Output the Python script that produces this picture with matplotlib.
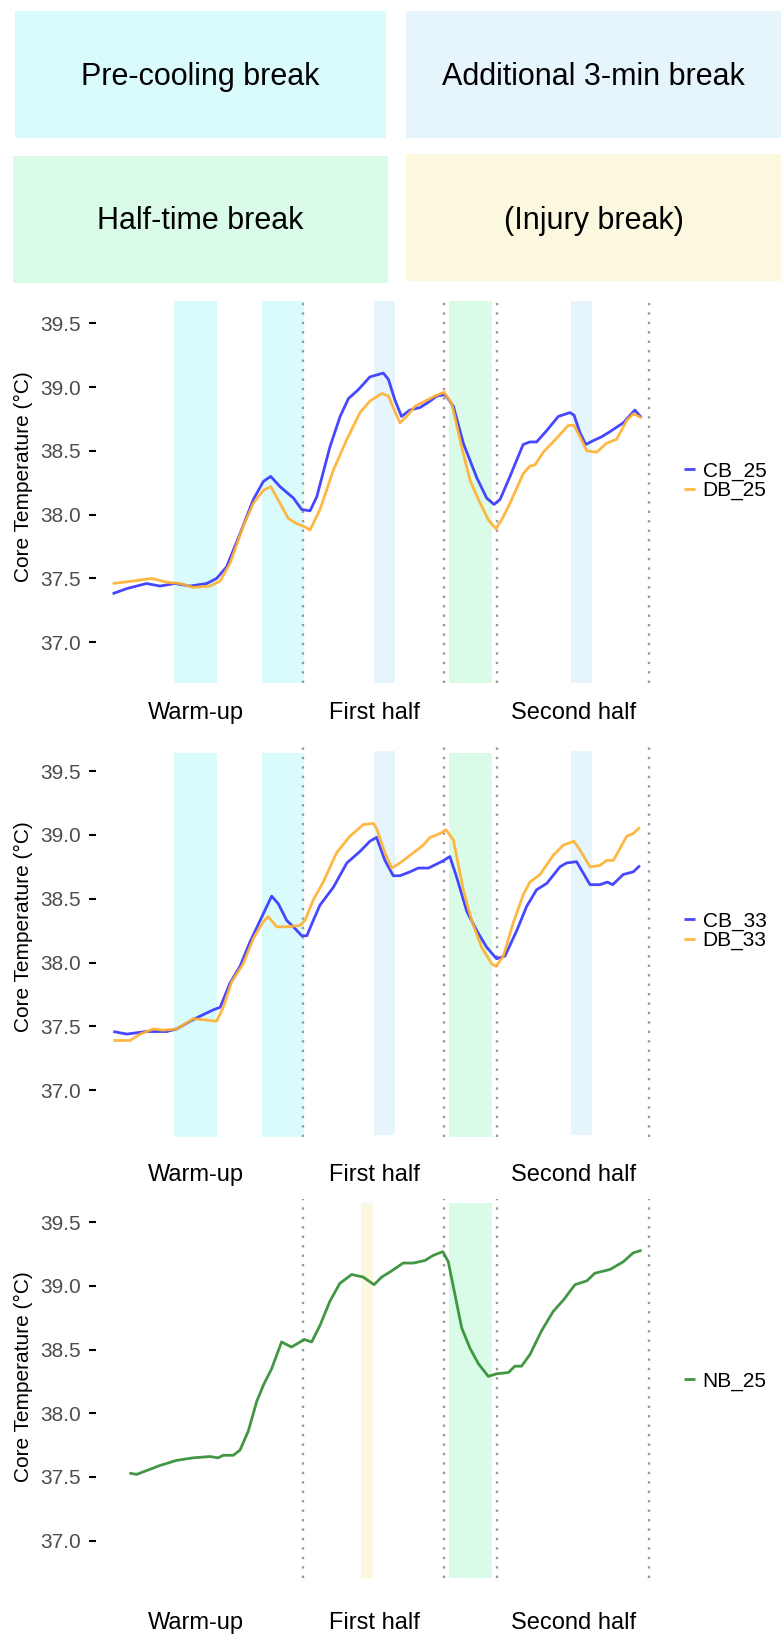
import matplotlib.pyplot as plt
from matplotlib.patches import Rectangle

plt.rcParams["font.family"] = ["Liberation Sans", "DejaVu Sans"]

W, H, DPI = 781, 1635, 100

# ── data: minutes relative to kick-off, core temperature (°C) ────────────────
cb25_t = [-59.4, -55, -48.8, -44.6, -39.9, -35.2, -30, -26.9, -23.8, -19.6, -15.4, -12.3, -10,
          -7.1, -2.9, -0.3, 2.3, 4.4, 8.5, 11.7, 14.3, 17.4, 21, 25.2, 26.8, 28.8, 30.9, 33.5,
          36.7, 39.8, 41.9, 44.5, 47.1, 50.2, 54.4, 57.5, 59.8, 61.7, 64.8, 68.9, 71, 73.1,
          76.3, 79.9, 83.5, 84.8, 86.7, 88.5, 90.8, 93.4, 96, 100.2, 103.8, 105.9]
cb25 = [37.38, 37.42, 37.46, 37.44, 37.46, 37.44, 37.46, 37.50, 37.59, 37.85, 38.12, 38.26, 38.30,
        38.22, 38.13, 38.04, 38.03, 38.14, 38.53, 38.77, 38.91, 38.98, 39.08, 39.11, 39.06, 38.90,
        38.77, 38.82, 38.84, 38.89, 38.93, 38.94, 38.85, 38.56, 38.29, 38.13, 38.08, 38.12, 38.30,
        38.55, 38.57, 38.57, 38.66, 38.77, 38.80, 38.78, 38.64, 38.55, 38.58, 38.61, 38.65, 38.72,
        38.82, 38.76]

db25_t = [-59.4, -52.9, -47.2, -42.5, -38.3, -34.2, -29, -25.8, -22.7, -18.6, -15.4, -12.3, -10,
          -7.1, -4.5, -1.9, 0.2, 2.3, 5.4, 9.6, 13.8, 17.9, 21, 24.7, 26.8, 28.8, 30.4, 32.5,
          35.1, 38.2, 41.3, 44.2, 46.6, 49.7, 52.3, 54.9, 58, 60.4, 62.2, 64.8, 68.9, 71, 72.6,
          75.2, 79.4, 83, 84.8, 86.7, 88.8, 91.9, 95, 98.1, 101.3, 103.3, 105.9]
db25 = [37.46, 37.48, 37.50, 37.47, 37.46, 37.43, 37.44, 37.48, 37.62, 37.91, 38.09, 38.19, 38.22,
        38.09, 37.97, 37.93, 37.91, 37.88, 38.04, 38.35, 38.59, 38.80, 38.89, 38.95, 38.93, 38.81,
        38.72, 38.77, 38.85, 38.89, 38.93, 38.96, 38.87, 38.53, 38.27, 38.12, 37.96, 37.89, 37.96,
        38.09, 38.32, 38.38, 38.39, 38.49, 38.60, 38.70, 38.70, 38.61, 38.50, 38.49, 38.56, 38.59,
        38.74, 38.79, 38.76]

cb33_t = [-59.2, -55, -48.8, -42.5, -39.4, -35.2, -32.1, -27.9, -25.8, -22.7, -19.6, -16.5, -13.3,
          -9.7, -7.6, -5, -2.9, -0.3, 1.3, 3.3, 5.4, 9.6, 13.8, 17.9, 21, 23.1, 25.7, 28.3, 30.4,
          33.5, 36.1, 39.3, 43.4, 46, 48.1, 51.3, 54.4, 57.5, 60.6, 63.2, 66.9, 70, 73.1, 76.3,
          80.4, 82.5, 85.6, 87.7, 89.8, 92.9, 95.2, 96.9, 100.2, 103.3, 105.4]
cb33 = [37.46, 37.44, 37.46, 37.46, 37.48, 37.54, 37.58, 37.63, 37.65, 37.84, 37.97, 38.16, 38.33,
        38.52, 38.46, 38.33, 38.28, 38.21, 38.21, 38.33, 38.45, 38.59, 38.78, 38.87, 38.95, 38.98,
        38.80, 38.68, 38.68, 38.71, 38.74, 38.74, 38.79, 38.83, 38.67, 38.40, 38.25, 38.12, 38.03,
        38.05, 38.25, 38.44, 38.57, 38.62, 38.75, 38.78, 38.79, 38.70, 38.61, 38.61, 38.63, 38.61,
        38.69, 38.71, 38.76]

db33_t = [-59.2, -54, -50.8, -46.7, -43.6, -39.4, -34.2, -30, -26.9, -24.8, -22.2, -18.6, -15.4,
          -12.3, -10.8, -8.1, -5, -0.8, 0.7, 3.3, 6.4, 10.6, 14.8, 18.9, 22.1, 23.1, 25.7, 27.8,
          30.4, 34.6, 37.7, 39.8, 42.9, 44.8, 47.1, 50.2, 52.8, 55.9, 59.1, 60.4, 62.7, 65.8, 68.9,
          71, 74.2, 78.3, 81.5, 84.8, 86.7, 89.8, 92.9, 95, 97.1, 101.3, 103.3, 105.4]
db33 = [37.39, 37.39, 37.44, 37.48, 37.47, 37.48, 37.56, 37.55, 37.54, 37.65, 37.85, 37.99, 38.19,
        38.32, 38.36, 38.28, 38.28, 38.29, 38.33, 38.49, 38.63, 38.86, 38.99, 39.08, 39.09, 39.05,
        38.86, 38.74, 38.78, 38.86, 38.92, 38.98, 39.01, 39.04, 38.96, 38.57, 38.33, 38.12, 37.99,
        37.97, 38.05, 38.31, 38.53, 38.63, 38.69, 38.84, 38.92, 38.95, 38.88, 38.75, 38.76, 38.80,
        38.80, 38.99, 39.01, 39.06]

nb25_t = [-54.2, -51.9, -47.7, -44.6, -39.4, -34.2, -29, -26.4, -24.8, -21.7, -19.6, -17, -14.4,
          -12.3, -9.7, -6.6, -3.5, -0.8, 0.4, 2.8, 5.4, 8.5, 11.6, 15.3, 18.9, 22.3, 24.7, 27.3,
          31.4, 34.6, 38.2, 40.8, 43.8, 45.5, 47.6, 49.7, 52.3, 54.9, 58, 60.6, 64.3, 66.3, 68.4,
          71, 74.7, 78.3, 81.5, 85.1, 88.8, 91.3, 96.1, 100.2, 103.3, 105.9]
nb25 = [37.53, 37.52, 37.56, 37.59, 37.63, 37.65, 37.66, 37.65, 37.67, 37.67, 37.71, 37.86, 38.09,
        38.22, 38.35, 38.56, 38.52, 38.56, 38.58, 38.56, 38.69, 38.88, 39.02, 39.09, 39.07, 39.01,
        39.07, 39.11, 39.18, 39.18, 39.20, 39.24, 39.27, 39.19, 38.93, 38.67, 38.51, 38.39, 38.29,
        38.31, 38.32, 38.37, 38.37, 38.46, 38.65, 38.80, 38.89, 39.01, 39.04, 39.10, 39.13, 39.19,
        39.26, 39.28]

pre_cooling = [(-40.2, -26.8), (-12.8, 0.4)]
additional = [(22.3, 28.8), (83.8, 90.4)]
half_time = [(45.7, 59.1)]
injury = [(18.2, 22.0)]

period_marks = [0, 44.3, 60.6, 108.1]
period_labels = ["Warm-up", "First half", "Second half"]
period_label_pos = [-33.5, 22.3, 84.8]
yticks = [37.0, 37.5, 38.0, 38.5, 39.0, 39.5]

# ── colours ──────────────────────────────────────────────────────────────────
C_PRE = "#D9FBFC"
C_ADD = "#E6F5FC"
C_HALF = "#DAFBE7"
C_INJ = "#FCF7DF"
C_CB = "#3333FF"
C_DB = "#FFB02E"
C_NB = "#2E8B2E"

XLIM = (-64.6, 112.3)


def px_box(x0, y0, x1, y1):
    """pixel box (top-left origin) -> figure fraction rect"""
    return [x0 / W, 1 - y1 / H, (x1 - x0) / W, (y1 - y0) / H]


fig = plt.figure(figsize=(W / DPI, H / DPI), dpi=DPI)

# ── key boxes at the top ─────────────────────────────────────────────────────
keys = [
    ("Pre-cooling break", C_PRE, (15, 11, 386, 138), 77),
    ("Additional 3-min break", C_ADD, (406, 11, 781, 138), 77),
    ("Half-time break", C_HALF, (13, 156, 388, 283), 221),
    ("(Injury break)", C_INJ, (406, 154, 781, 281), 221),
]
for text, color, (x0, y0, x1, y1), ty in keys:
    l, b, w, h = px_box(x0, y0, x1, y1)
    fig.add_artist(Rectangle((l, b), w, h, transform=fig.transFigure,
                             facecolor=color, edgecolor="none"))
    fig.text(l + w / 2, 1 - ty / H, text, ha="center", va="center", fontsize=22)

# ── panels ───────────────────────────────────────────────────────────────────
panels = [
    dict(box=(96, 301, 662, 683), ylim=(36.68, 39.675),
         series=[(cb25_t, cb25, C_CB, "CB_25"), (db25_t, db25, C_DB, "DB_25")],
         shades=[(pre_cooling, C_PRE, 36.68, 39.675), (additional, C_ADD, 36.68, 39.675),
                 (half_time, C_HALF, 36.68, 39.675)],
         center=481, pad=13.6),
    dict(box=(96, 741, 662, 1137), ylim=(36.634, 39.735),
         series=[(cb33_t, cb33, C_CB, "CB_33"), (db33_t, db33, C_DB, "DB_33")],
         shades=[(pre_cooling, C_PRE, 36.634, 39.643), (additional, C_ADD, 36.65, 39.656),
                 (half_time, C_HALF, 36.634, 39.643)],
         center=931, pad=19.1),
    dict(box=(96, 1199, 662, 1578), ylim=(36.706, 39.683),
         series=[(nb25_t, nb25, C_NB, "NB_25")],
         shades=[(injury, C_INJ, 36.706, 39.654), (half_time, C_HALF, 36.706, 39.654)],
         center=1381, pad=24.5),
]

for p in panels:
    ax = fig.add_axes(px_box(*p["box"]))
    for intervals, color, lo, hi in p["shades"]:
        for x0, x1 in intervals:
            ax.fill_between([x0, x1], lo, hi, color=color, lw=0, zorder=1)
    for x in period_marks:
        ax.axvline(x, color="#999999", lw=1.7, ls=(0, (1, 3)), zorder=2)
    handles = []
    for t, v, color, name in p["series"]:
        ln, = ax.plot(t, v, color=color, lw=2.0, alpha=0.9, label=name, zorder=3,
                      solid_capstyle="butt")
        handles.append(ln)

    ax.set_xlim(*XLIM)
    ax.set_ylim(*p["ylim"])
    ax.set_yticks(yticks)
    ax.set_yticklabels([f"{v:.1f}" for v in yticks])
    ax.set_xticks(period_label_pos)
    ax.set_xticklabels(period_labels)
    ax.tick_params(axis="y", direction="out", length=5, width=1.5, color="black",
                   pad=5.8, labelsize=15, labelcolor="#4D4D4D")
    ax.tick_params(axis="x", length=0, pad=p["pad"], labelsize=17, labelcolor="black")
    for s in ax.spines.values():
        s.set_visible(False)
    ax.patch.set_alpha(0)

    yc = 1 - p["center"] / H
    fig.text(23 / W, yc + 4 / H, "Core Temperature (°C)", rotation=90, ha="center",
             va="center", fontsize=15)
    ax.legend(handles=handles, loc="center left", bbox_to_anchor=(684 / W, yc),
              bbox_transform=fig.transFigure, frameon=False, borderpad=0, borderaxespad=0,
              handlelength=0.55, handletextpad=0.35, labelspacing=0.02, fontsize=15)

fig.savefig("out.png", dpi=DPI)
